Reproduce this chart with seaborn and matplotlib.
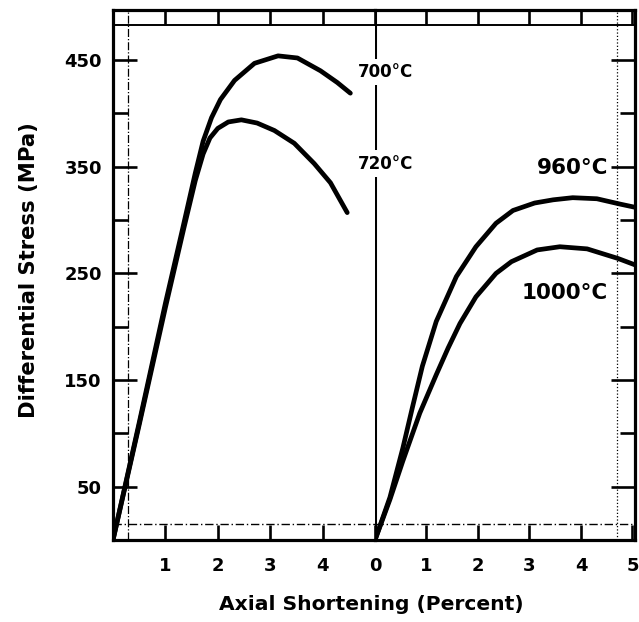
import numpy as np
import pandas as pd
import seaborn as sns
import matplotlib.pyplot as plt

# left panel curves (axial shortening %, differential stress MPa)
strain_700 = [0.0, 0.5, 1.0, 1.32, 1.57, 1.72, 1.88, 2.05, 2.32, 2.7, 3.15, 3.52, 3.96, 4.28, 4.53]
stress_700 = [0, 110, 222, 290, 344, 374, 396, 413, 431, 447, 454, 452, 440, 429, 419]
strain_720 = [0.0, 0.5, 1.0, 1.35, 1.57, 1.72, 1.85, 2.0, 2.2, 2.45, 2.75, 3.08, 3.46, 3.84, 4.15, 4.47]
stress_720 = [0, 108, 218, 292, 337, 362, 377, 386, 392, 394, 391, 384, 372, 353, 335, 307]

# right panel curves
strain_960 = [0.0, 0.29, 0.54, 0.73, 0.92, 1.19, 1.58, 1.96, 2.35, 2.68, 3.1, 3.46, 3.84, 4.31, 4.76, 5.05]
stress_960 = [0, 40, 86, 125, 163, 205, 247, 275, 297, 309, 316, 319, 321, 320, 315, 312]
strain_1000 = [0.0, 0.29, 0.54, 0.87, 1.19, 1.42, 1.65, 1.96, 2.35, 2.65, 3.15, 3.59, 4.12, 4.72, 5.05]
stress_1000 = [0, 38, 74, 119, 155, 180, 203, 228, 250, 261, 272, 275, 273, 264, 258]

left_ticks = [1, 2, 3, 4]
right_ticks = [0, 1, 2, 3, 4, 5]
stress_labels = [50, 150, 250, 350, 450]
stress_minor = [100, 200, 300, 400]

left_df = pd.DataFrame({
    "strain": strain_700 + strain_720,
    "stress": stress_700 + stress_720,
    "temp": ["700°C"] * len(strain_700) + ["720°C"] * len(strain_720),
})
right_df = pd.DataFrame({
    "strain": strain_960 + strain_1000,
    "stress": stress_960 + stress_1000,
    "temp": ["960°C"] * len(strain_960) + ["1000°C"] * len(strain_1000),
})

sns.set_theme(style="white")
plt.rcParams["font.family"] = ["DejaVu Sans"]
plt.rcParams["font.weight"] = "bold"
plt.rcParams["text.color"] = "black"
plt.rcParams["xtick.color"] = "black"
plt.rcParams["ytick.color"] = "black"

W, H = 639, 622
fig = plt.figure(figsize=(W / 100, H / 100), dpi=100)
x0, xm, x1 = 113, 375, 635
y0, y1 = 540, 10
ax_l = fig.add_axes([x0 / W, 1 - y0 / H, (xm - x0) / W, (y0 - y1) / H])
ax_r = fig.add_axes([xm / W, 1 - y0 / H, (x1 - xm) / W, (y0 - y1) / H])

tick_len = 11
tick_w = 1.9
spine_w = 2.3

for ax, df in [(ax_l, left_df), (ax_r, right_df)]:
    pal = {t: "black" for t in df["temp"].unique()}
    sns.lineplot(data=df, x="strain", y="stress", hue="temp", palette=pal,
                 sort=False, estimator=None, lw=3.4, legend=False, ax=ax)
    for ln in ax.get_lines():
        ln.set_solid_joinstyle("round")
        ln.set_solid_capstyle("round")
    ax.set_ylim(0, 497)
    ax.set_xlabel("")
    ax.set_ylabel("")
    for s in ax.spines.values():
        s.set_linewidth(spine_w)
        s.set_color("black")
    ax.tick_params(axis="both", which="both", direction="in", length=tick_len,
                   width=tick_w, color="black", labelcolor="black",
                   labelsize=13, top=True, bottom=True, left=False, right=False)

# left panel
ax_l.set_xlim(0, 5)
ax_l.spines["right"].set_visible(False)
ax_l.set_xticks(left_ticks)
ax_l.set_xticklabels([str(t) for t in left_ticks], fontweight="bold")
ax_l.set_yticks(stress_labels)
ax_l.set_yticks(stress_minor, minor=True)
ax_l.set_yticklabels([str(v) for v in stress_labels], fontweight="bold")
ax_l.tick_params(axis="y", which="both", left=True, labelleft=True, pad=8)
ax_l.tick_params(axis="y", which="major", length=17)
ax_l.tick_params(axis="x", pad=12)

# right panel
ax_r.set_xlim(0, 5.05)
ax_r.spines["left"].set_visible(False)
ax_r.set_xticks(right_ticks)
ax_r.set_xticklabels([str(t) for t in right_ticks], fontweight="bold")
ax_r.set_yticks(stress_labels)
ax_r.set_yticks(stress_minor, minor=True)
ax_r.tick_params(axis="y", which="both", right=True, labelleft=False,
                 labelright=False)
ax_r.tick_params(axis="y", which="major", length=17)
ax_r.tick_params(axis="x", pad=12)
ax_r.axvline(0, color="black", lw=2.2, zorder=1)

# inner scale-bar lines of the double frame
ax_l.plot([0.057, 0.057], [0.0, 1.0], transform=ax_l.transAxes,
          color="black", lw=0.9, ls="-.")
for ax in (ax_l, ax_r):
    ax.plot([0, 1], [0.972, 0.972], transform=ax.transAxes, color="black", lw=1.4)
    ax.plot([0, 1], [0.03, 0.03], transform=ax.transAxes, color="black",
            lw=1.0, ls=(0, (6, 2, 1, 2)))
ax_r.plot([0.93, 0.93], [0.0, 1.0], transform=ax_r.transAxes,
          color="black", lw=0.9, ls=":")

# curve labels
box = dict(facecolor="white", edgecolor="none", pad=3)
ax_r.text(0.21, 439, "700°C", ha="center", va="center", fontsize=12,
          fontweight="bold", bbox=box)
ax_r.text(0.21, 353, "720°C", ha="center", va="center", fontsize=12,
          fontweight="bold", bbox=box)
ax_r.text(3.83, 349, "960°C", ha="center", va="center", fontsize=15.5,
          fontweight="bold")
ax_r.text(3.69, 232, "1000°C", ha="center", va="center", fontsize=15.5,
          fontweight="bold")

fig.text(371 / W, 1 - 605 / H, "Axial Shortening (Percent)", ha="center",
         va="center", fontsize=14.6, fontweight="bold")
fig.text(29 / W, 1 - 270 / H, "Differential Stress (MPa)", ha="center",
         va="center", rotation=90, fontsize=15.2, fontweight="bold")

fig.savefig("out.png", dpi=100)
